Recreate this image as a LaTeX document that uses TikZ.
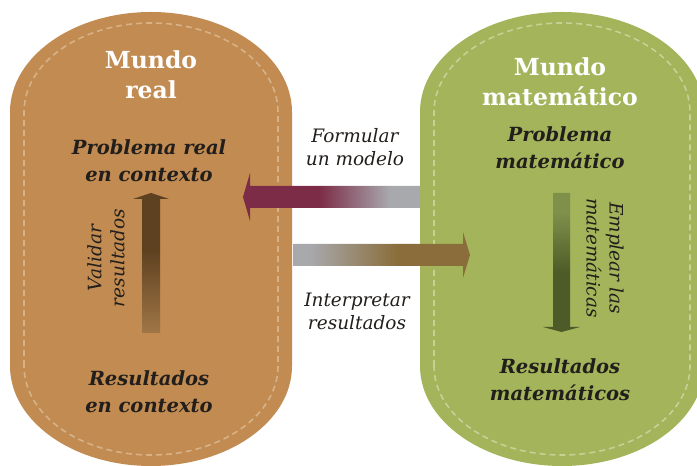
\documentclass[tikz,border=0pt]{standalone}
\usepackage{fontspec}
\setmainfont{DejaVu Serif}
\usetikzlibrary{positioning}
\definecolor{realfill}{HTML}{C18B52}
\definecolor{realdash}{HTML}{D8B287}
\definecolor{matfill}{HTML}{A3B45B}
\definecolor{matdash}{HTML}{C6D196}
\definecolor{formcol}{HTML}{7C2C47}
\definecolor{intercol}{HTML}{8A6D3A}
\definecolor{linkgray}{HTML}{A8A9AD}
\definecolor{valtop}{HTML}{5D4120}
\definecolor{valbot}{HTML}{A07646}
\definecolor{emptop}{HTML}{7F904B}
\definecolor{empbot}{HTML}{4C5B27}
\definecolor{ink}{HTML}{221E1B}
% colour runs of the four arrows (bounding box = 25bp..75bp)
\pgfdeclarehorizontalshading{formshade}{100bp}{color(0bp)=(formcol); color(46.5bp)=(formcol);
  color(66.5bp)=(linkgray); color(100bp)=(linkgray)}
\pgfdeclarehorizontalshading{intershade}{100bp}{color(0bp)=(linkgray); color(29.5bp)=(linkgray);
  color(54.5bp)=(intercol); color(100bp)=(intercol)}
\pgfdeclareverticalshading{valshade}{100bp}{color(0bp)=(valbot); color(25bp)=(valbot);
  color(55bp)=(valtop); color(100bp)=(valtop)}
\pgfdeclareverticalshading{empshade}{100bp}{color(0bp)=(empbot); color(46bp)=(empbot);
  color(68bp)=(emptop); color(100bp)=(emptop)}
\tikzset{
  world/.style={text=white, font=\fontsize{23.5}{30}\selectfont\bfseries, align=center},
  stage/.style={text=ink, font=\fontsize{19.5}{27}\selectfont\bfseries\itshape, align=center},
  phase/.style={text=ink, font=\fontsize{18.5}{23}\selectfont\itshape, align=center},
  seam/.style={dash pattern=on 6pt off 4pt, line width=1.6pt},
}

\begin{document}
\begin{tikzpicture}[x=1pt,y=1pt]
  \useasboundingbox (0,0) rectangle (697,466);
  \clip (0,0) rectangle (697,466);
  % the two worlds
  \fill[realfill] (10,100) -- (10,354) arc[start angle=180,end angle=0,x radius=141,y radius=100]
    -- (292,100) arc[start angle=0,end angle=-180,x radius=141,y radius=100] -- cycle;
  \draw[seam,realdash] (24,100) -- (24,354) arc[start angle=180,end angle=0,x radius=127,y radius=89]
    -- (278,100) arc[start angle=0,end angle=-180,x radius=127,y radius=89] -- cycle;
  \fill[matfill] (420,100) -- (420,354) arc[start angle=180,end angle=0,x radius=142,y radius=100]
    -- (704,100) arc[start angle=0,end angle=-180,x radius=142,y radius=100] -- cycle;
  \draw[seam,matdash] (434,100) -- (434,354) arc[start angle=180,end angle=0,x radius=128,y radius=89]
    -- (690,100) arc[start angle=0,end angle=-180,x radius=128,y radius=89] -- cycle;

  % Formular un modelo
  \shade[shading=formshade] (243,269) -- (250,293) -- (250,280) -- (420,280) -- (420,258)
    -- (250,258) -- (250,245) -- cycle;
  % Interpretar resultados
  \shade[shading=intershade] (293,222) -- (463,222) -- (463,234) -- (470,211) -- (463,188)
    -- (463,200) -- (293,200) -- cycle;
  % Validar resultados
  \shade[shading=valshade] (142,133) -- (142,267) -- (133,267) -- (151,273) -- (169,267)
    -- (160,267) -- (160,133) -- cycle;
  % Emplear las matematicas
  \shade[shading=empshade] (553,273) -- (553,139) -- (543,139) -- (561.5,134) -- (580,139)
    -- (570,139) -- (570,273) -- cycle;

  \node[world] (realname) at (151,391) {Mundo\\real};
  \node[world] (matname) at (560,384) {Mundo\\matemático};
  \node[stage] (realprob) at (149,305) {Problema real\\en contexto};
  \node[stage] (matprob) at (560,318) {Problema\\matemático};
  \node[stage] (realres) at (149,74) {Resultados\\en contexto};
  \node[stage] (matres) at (560,86) {Resultados\\matemáticos};
  \node[phase] (formular) at (355,319) {Formular\\un modelo};
  \node[phase] (interpretar) at (357,155) {Interpretar\\resultados};
  \node[phase, rotate=90] (validar) at (106,208) {Validar\\resultados};
  \node[phase, rotate=-90] (emplear) at (605,208) {Emplear las\\matemáticas};
\end{tikzpicture}
\end{document}
